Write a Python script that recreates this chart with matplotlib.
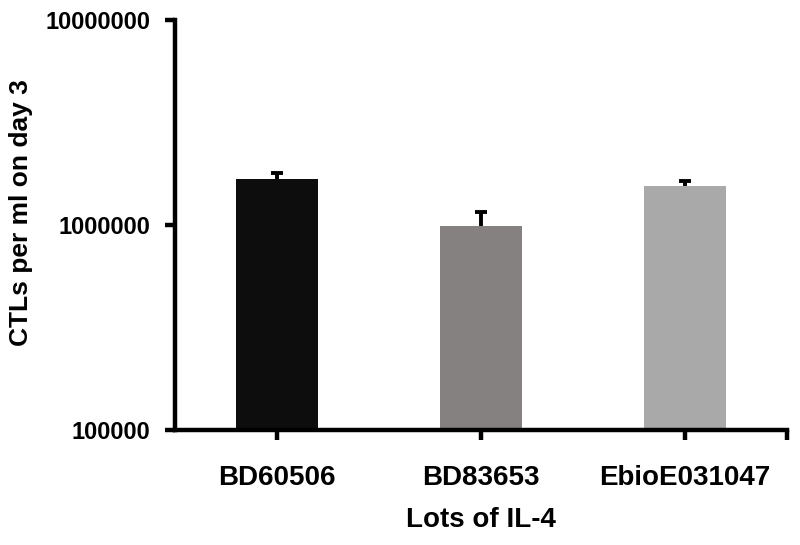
import matplotlib
matplotlib.use('Agg')
import matplotlib.pyplot as plt
from matplotlib.ticker import NullLocator

lots = ['BD60506', 'BD83653', 'EbioE031047']
ctls = [1.68e6, 0.99e6, 1.55e6]
err_up = [0.12e6, 0.17e6, 0.09e6]
bar_colors = ['#0d0d0d', '#858180', '#a9a9a9']
ytick_vals = [1e5, 1e6, 1e7]
ytick_labels = ['100000', '1000000', '10000000']

plt.rcParams['font.family'] = ['Liberation Sans', 'DejaVu Sans']
plt.rcParams['font.weight'] = 'bold'

fig = plt.figure(figsize=(8, 5.45), dpi=100)
ax = fig.add_axes([0.219, 0.211, 0.765, 0.752])

x = list(range(len(lots)))
ax.bar(x, ctls, width=0.4, color=bar_colors, zorder=2)
_, caps, _ = ax.errorbar(x, ctls, yerr=[[0] * len(x), err_up], fmt='none',
                         ecolor='black', elinewidth=2.8, capsize=4.5,
                         capthick=2.8, zorder=3)
# only the upper cap is drawn in the original
caps[0].set_visible(False)

ax.set_yscale('log')
ax.set_ylim(1e5, 1e7)
ax.set_xlim(-0.5, 2.5)
ax.set_yticks(ytick_vals)
ax.set_yticklabels(ytick_labels, fontsize=17, fontweight='bold')
ax.yaxis.set_minor_locator(NullLocator())
ax.set_xticks(x + [2.5])
ax.set_xticklabels(lots + [''], fontsize=20, fontweight='bold')

for side in ['top', 'right']:
    ax.spines[side].set_visible(False)
for side in ['left', 'bottom']:
    ax.spines[side].set_linewidth(3.2)
ax.tick_params(axis='both', which='major', length=7, width=3.2, direction='out')
ax.tick_params(axis='y', pad=11)
ax.tick_params(axis='x', pad=18)

ax.set_ylabel('CTLs per ml on day 3', fontsize=19, fontweight='bold')
ax.yaxis.set_label_coords(-0.232, 0.53)
ax.set_xlabel('Lots of IL-4', fontsize=20, fontweight='bold', labelpad=12)

fig.savefig('out.png', dpi=100)
